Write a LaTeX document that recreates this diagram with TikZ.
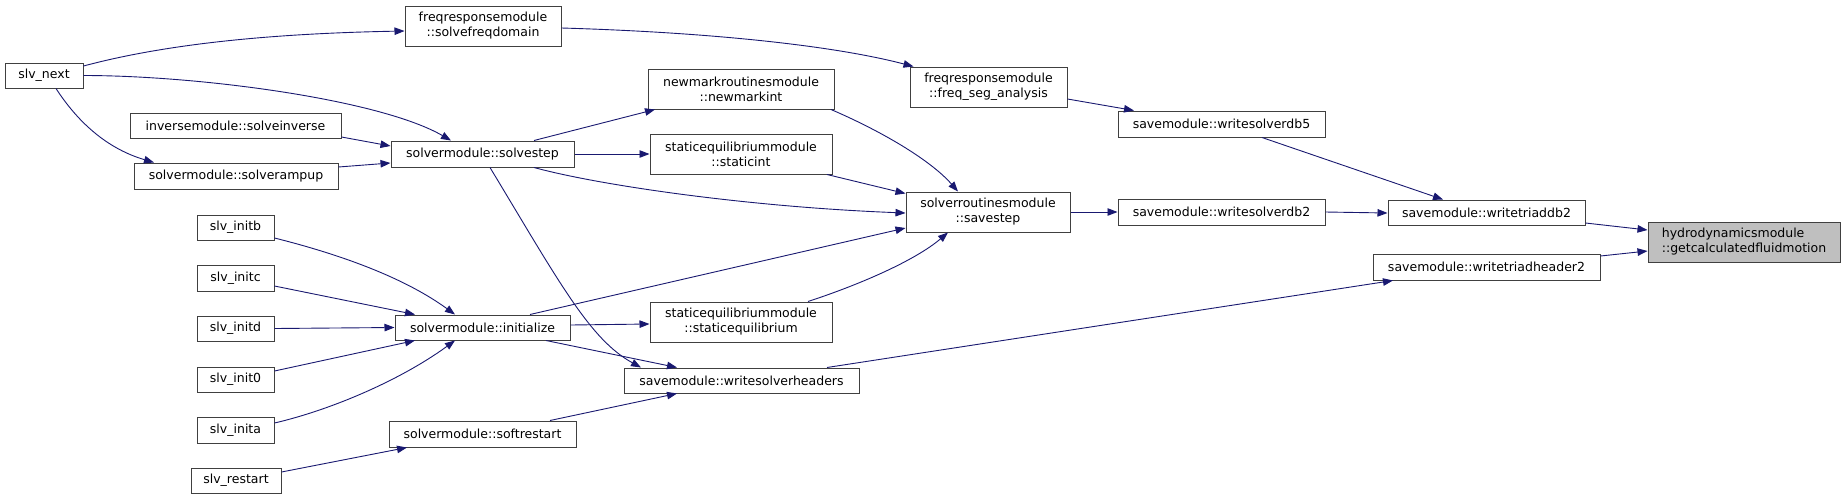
\documentclass[tikz,border=0pt]{standalone}
\usepackage{fontspec}
\setmainfont{DejaVu Sans}
\usetikzlibrary{arrows.meta}
\definecolor{edgecol}{HTML}{191970}
\definecolor{boxcol}{HTML}{404040}
\definecolor{hilite}{HTML}{BFBFBF}
\begin{document}
\begin{tikzpicture}[x=1pt,y=-1pt,
  fn/.style={draw=boxcol, line width=1pt, inner sep=0pt, align=center,
    font=\fontsize{12.5}{15}\selectfont, anchor=center},
  call/.style={draw=edgecol, line width=0.9pt, -{Triangle[length=10pt,width=7.5pt]}}]
\useasboundingbox (0,0) rectangle (1845,499);

% nodes
\node[fn, fill=hilite, align=left, minimum width=192pt, minimum height=40pt] (hydro) at (1744,242) {hydrodynamicsmodule\\::getcalculatedfluidmotion};
\node[fn, minimum width=197pt, minimum height=25pt] (wtdb2) at (1486.5,212.5) {savemodule::writetriaddb2};
\node[fn, minimum width=227pt, minimum height=26pt] (wth2) at (1486.5,267) {savemodule::writetriadheader2};
\node[fn, minimum width=207pt, minimum height=26pt] (wsdb5) at (1221.5,124) {savemodule::writesolverdb5};
\node[fn, minimum width=207pt, minimum height=26pt] (wsdb2) at (1221.5,212) {savemodule::writesolverdb2};
\node[fn, minimum width=157pt, minimum height=40pt] (freqseg) at (988.5,87) {freqresponsemodule\\::freq\_seg\_analysis};
\node[fn, minimum width=164pt, minimum height=40pt] (savestep) at (988,212) {solverroutinesmodule\\::savestep};
\node[fn, minimum width=235pt, minimum height=25pt] (wsh) at (741.5,380.5) {savemodule::writesolverheaders};
\node[fn, minimum width=186pt, minimum height=40pt] (newmark) at (741,89) {newmarkroutinesmodule\\::newmarkint};
\node[fn, minimum width=182pt, minimum height=40pt] (staticint) at (741,154) {staticequilibriummodule\\::staticint};
\node[fn, minimum width=182pt, minimum height=40pt] (staticeq) at (741,322) {staticequilibriummodule\\::staticequilibrium};
\node[fn, minimum width=156pt, minimum height=40pt] (solvefreq) at (483,26) {freqresponsemodule\\::solvefreqdomain};
\node[fn, minimum width=183pt, minimum height=26pt] (solvestep) at (482.5,154) {solvermodule::solvestep};
\node[fn, minimum width=175pt, minimum height=25pt] (initialize) at (482.5,327.5) {solvermodule::initialize};
\node[fn, minimum width=187pt, minimum height=26pt] (softrestart) at (482.5,434) {solvermodule::softrestart};
\node[fn, minimum width=78pt, minimum height=25pt] (slvnext) at (44,75.5) {slv\_next};
\node[fn, minimum width=211pt, minimum height=25pt] (solveinverse) at (235.5,126) {inversemodule::solveinverse};
\node[fn, minimum width=204pt, minimum height=26pt] (solverampup) at (236,176) {solvermodule::solverampup};
\node[fn, minimum width=77pt, minimum height=25pt] (slvinitb) at (235.5,227.5) {slv\_initb};
\node[fn, minimum width=77pt, minimum height=26pt] (slvinitc) at (235.5,278) {slv\_initc};
\node[fn, minimum width=77pt, minimum height=25pt] (slvinitd) at (235.5,328.5) {slv\_initd};
\node[fn, minimum width=77pt, minimum height=25pt] (slvinit0) at (235.5,379.5) {slv\_init0};
\node[fn, minimum width=77pt, minimum height=26pt] (slvinita) at (235.5,430) {slv\_inita};
\node[fn, minimum width=90pt, minimum height=25pt] (slvrestart) at (236,480.5) {slv\_restart};

% connectors
\draw[call] ([yshift=9.5pt]slvnext.east) .. controls +(97,-26) and +(-105,2) .. ([yshift=-5pt]solvefreq.west);
\draw[call] (slvnext.east) .. controls +(116,0) and +(-71,-41) .. ([xshift=-31.5pt]solvestep.north);
\draw[call] ([xshift=12pt]slvnext.south) .. controls +(24,37) and +(-44,-13) .. ([xshift=-82pt]solverampup.north);
\draw[call] ([yshift=-11pt]solveinverse.east) -- ([yshift=8pt]solvestep.west);
\draw[call] ([yshift=9pt]solverampup.east) -- ([yshift=-9pt]solvestep.west);
\draw[call] ([xshift=51.5pt]solvestep.north) -- ([xshift=-86pt]newmark.south);
\draw[call] (solvestep.east) -- (staticint.west);
\draw[call] ([xshift=51.5pt]solvestep.south) .. controls +(66,18) and +(-156,-6) .. ([yshift=-1pt]savestep.west);
\draw[call] ([xshift=90pt]newmark.south) .. controls +(49,21) and +(-28,-32) .. ([xshift=-30pt]savestep.north);
\draw[call] ([xshift=86pt]staticint.south) -- ([yshift=-2pt]savestep.north west);
\draw[call] ([xshift=47.5pt]initialize.north) -- ([yshift=-16pt]savestep.west);
\draw[call] ([xshift=67pt]staticeq.north) .. controls +(52,-17) and +(-33,28) .. ([xshift=-40pt]savestep.south);
\draw[call] ([yshift=-12pt]freqseg.east) -- ([xshift=-87.5pt]wsdb5.north);
\draw[call] ([yshift=-2pt]solvefreq.east) .. controls +(139,4) and +(-84,-22) .. ([xshift=4pt]freqseg.north west);
\draw[call] (savestep.east) -- (wsdb2.west);
\draw[call] ([xshift=40.5pt]wsdb5.south) -- ([xshift=-43.5pt]wtdb2.north);
\draw[call] (wsdb2.east) -- ([yshift=-0.5pt]wtdb2.west);
\draw[call] ([yshift=-10.5pt]wtdb2.east) -- ([yshift=12pt]hydro.west);
\draw[call] ([yshift=11pt]wth2.east) -- ([yshift=-9pt]hydro.west);
\draw[call] ([xshift=85.5pt]wsh.north) -- ([xshift=-93.5pt]wth2.south);
\draw[call] ([yshift=2.5pt]initialize.east) -- ([yshift=-2pt]staticeq.west);
\draw[call] ([xshift=63.5pt]initialize.south) -- ([xshift=-64.5pt]wsh.north);
\draw[call] ([xshift=7.5pt]solvestep.south) .. controls +(70,116) and +(-51,-28) .. ([xshift=-100.5pt]wsh.north);
\draw[call] ([yshift=-10.5pt]slvinitb.east) .. controls +(56,14) and +(-55,-40) .. ([xshift=-27.5pt]initialize.north);
\draw[call] ([yshift=-8pt]slvinitc.east) -- ([xshift=-67.5pt]initialize.north);
\draw[call] (slvinitd.east) -- (initialize.west);
\draw[call] ([yshift=8.5pt]slvinit0.east) -- ([xshift=-67.5pt]initialize.south);
\draw[call] ([yshift=7pt]slvinita.east) .. controls +(56,-13) and +(-55,40) .. ([xshift=-27.5pt]initialize.south);
\draw[call] ([yshift=8.5pt]slvrestart.east) -- ([xshift=-75.5pt]softrestart.south);
\draw[call] ([xshift=67.5pt]softrestart.north) -- ([xshift=-64.5pt]wsh.south);
\end{tikzpicture}
\end{document}
